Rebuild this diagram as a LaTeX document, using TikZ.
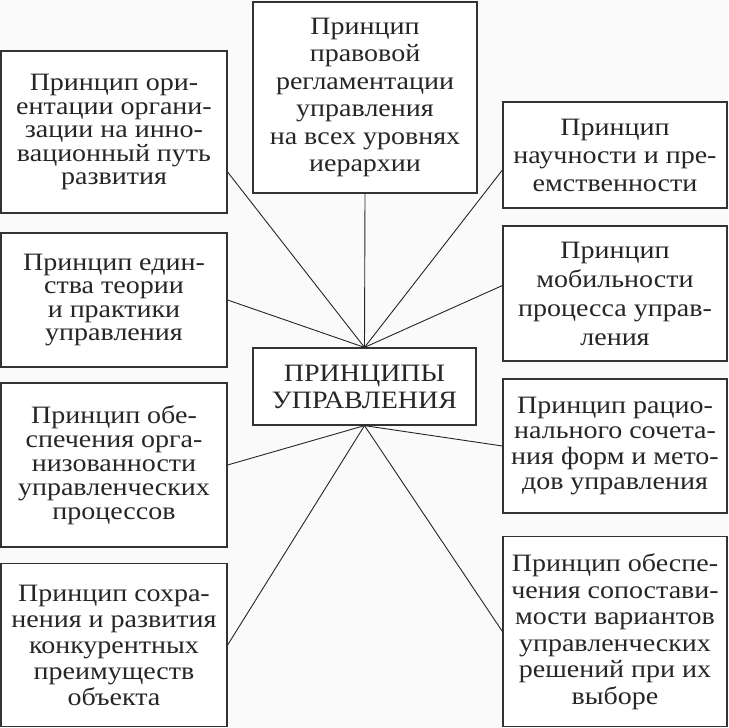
\documentclass[tikz,border=0pt]{standalone}
\usepackage{fontspec}
\setmainfont{Liberation Serif}[FakeStretch=1.12]
\begin{document}
\begin{tikzpicture}[x=1pt,y=1pt,every node/.style={font=\fontsize{25}{26}\selectfont},
  box/.style={draw=black!80,line width=1.2pt,fill=white,align=center,inner sep=0pt,text=black!85},
  lead/.style={font=\fontsize{25}{#1}\selectfont},
  link/.style={draw=black!85,line width=0.9pt}]
\useasboundingbox[fill=black!2] (0,0) rectangle (728,-728);
\node[box,lead=27.5,minimum width=224,minimum height=191] (pravo) at (365,-97.5) {Принцип\\правовой\\регламентации\\управления\\на всех уровнях\\иерархии};
\node[box,lead=23.5,minimum width=226,minimum height=162] (innov) at (114,-132) {Принцип ори-\\ентации органи-\\зации на инно-\\вационный путь\\развития};
\node[box,lead=28,minimum width=224,minimum height=106] (nauch) at (615,-155) {Принцип\\научности и пре-\\емственности};
\node[box,lead=23.5,minimum width=226,minimum height=134] (edin) at (114,-300) {Принцип един-\\ства теории\\и практики\\управления};
\node[box,lead=29,minimum width=224,minimum height=135] (mobil) at (615,-293.5) {Принцип\\мобильности\\процесса управ-\\ления};
\node[box,lead=27,minimum width=223,minimum height=77] (princ) at (364.5,-386.5) {ПРИНЦИПЫ\\УПРАВЛЕНИЯ};
\node[box,lead=24,minimum width=226,minimum height=164] (organ) at (114,-465) {Принцип обе-\\спечения орга-\\низованности\\управленческих\\процессов};
\node[box,lead=25.5,minimum width=224,minimum height=134] (ratio) at (615,-446) {Принцип рацио-\\нального сочета-\\ния форм и мето-\\дов управления};
\node[box,lead=26,minimum width=226,minimum height=163] (konk) at (114,-645) {Принцип сохра-\\нения и развития\\конкурентных\\преимуществ\\объекта};
\node[box,lead=26.5,minimum width=224,minimum height=190] (sopos) at (615,-631.5) {Принцип обеспе-\\чения сопостави-\\мости вариантов\\управленческих\\решений при их\\выборе};
\draw[link] ([yshift=-40pt]innov.east) -- (princ.north);
\draw[link] (edin.east) -- (princ.north);
\draw[link] (pravo.south) -- (princ.north);
\draw[link] ([yshift=-15pt]nauch.west) -- (princ.north);
\draw[link] ([yshift=8pt]mobil.west) -- (princ.north);
\draw[link] (organ.east) -- (princ.south);
\draw[link] (konk.east) -- (princ.south);
\draw[link] (ratio.west) -- (princ.south);
\draw[link] (sopos.west) -- (princ.south);
\end{tikzpicture}
\end{document}
